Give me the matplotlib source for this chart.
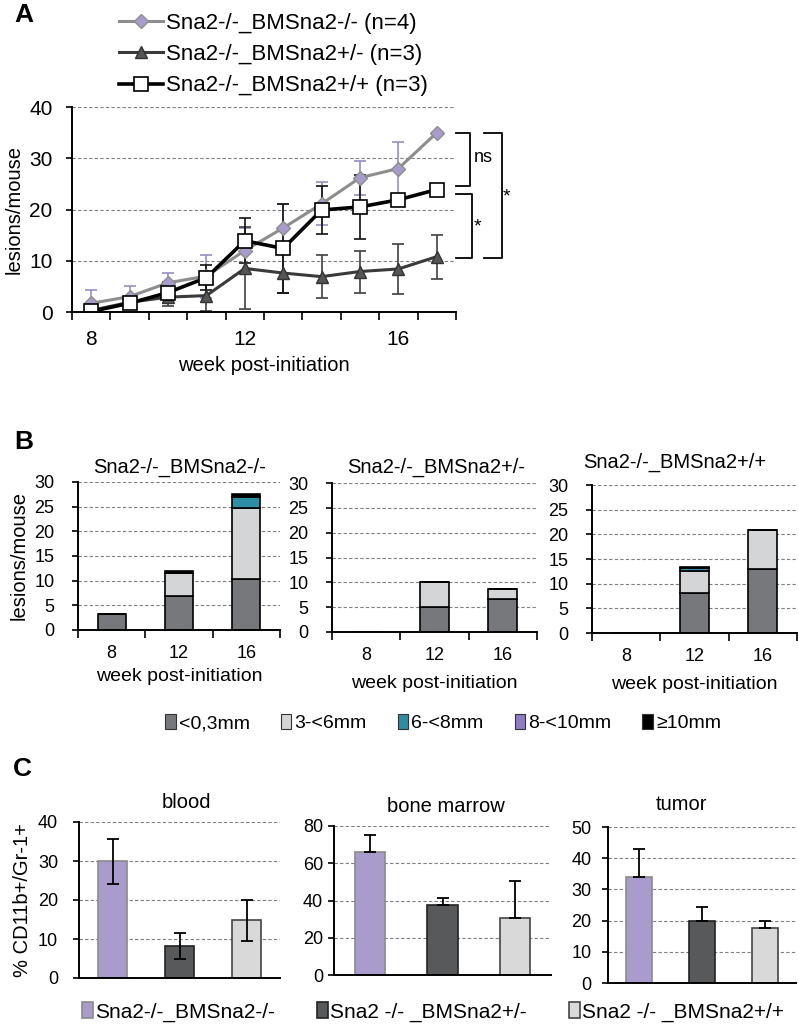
import numpy as np
import matplotlib
matplotlib.use('Agg')
import matplotlib.pyplot as plt
from matplotlib.patches import Patch

plt.rcParams['font.family'] = ['Liberation Sans', 'DejaVu Sans']

W, H = 799, 1025

# ---- panel A data (lesions/mouse per week) ----
weeks = [8, 9, 10, 11, 12, 13, 14, 15, 16, 17]
week_labels = ['8', '12', '16']
a_names = ['Sna2-/-_BMSna2-/- (n=4)', 'Sna2-/-_BMSna2+/- (n=3)', 'Sna2-/-_BMSna2+/+ (n=3)']
ko_mean = [1.7, 3.0, 5.7, 7.0, 12.0, 16.4, 21.1, 26.2, 28.0, 35.0]
ko_err = [2.5, 2.1, 1.9, 4.2, 4.4, 4.7, 4.2, 3.3, 5.2, 0.0]
het_mean = [0.3, 1.9, 2.9, 3.2, 8.5, 7.6, 6.9, 7.9, 8.4, 10.8]
het_err = [0.5, 1.0, 1.8, 3.0, 8.0, 3.8, 4.2, 4.1, 4.9, 4.3]
wt_mean = [0.1, 1.7, 3.8, 6.7, 13.9, 12.4, 19.9, 20.5, 21.9, 23.9]
wt_err = [0.3, 0.6, 2.0, 2.5, 4.4, 8.7, 4.6, 6.2, 0.0, 0.0]

# ---- panel B data (stacked lesion sizes) ----
b_titles = ['Sna2-/-_BMSna2-/-', 'Sna2-/-_BMSna2+/-', 'Sna2-/-_BMSna2+/+']
b_weeks = ['8', '12', '16']
size_classes = ['<0,3mm', '3-<6mm', '6-<8mm', '8-<10mm', '\u226510mm']
b_data = [
    # one row per size class, columns = weeks 8, 12, 16
    [[3.2, 6.9, 10.4], [0.0, 4.7, 14.4], [0.0, 0.0, 2.1], [0.0, 0.0, 0.0], [0.0, 0.4, 0.6]],
    [[0.0, 5.1, 6.6], [0.0, 5.0, 2.0], [0.0, 0.0, 0.0], [0.0, 0.0, 0.0], [0.0, 0.0, 0.0]],
    [[0.0, 8.2, 13.0], [0.0, 4.3, 7.9], [0.0, 0.6, 0.0], [0.0, 0.0, 0.0], [0.0, 0.3, 0.0]],
]

# ---- panel C data (% CD11b+/Gr-1+) ----
c_titles = ['blood', 'bone marrow', 'tumor']
c_groups = ['Sna2-/-_BMSna2-/-', 'Sna2 -/- _BMSna2+/-', 'Sna2 -/- _BMSna2+/+']
c_means = [[29.9, 8.2, 14.8], [66.0, 37.4, 30.8], [34.1, 20.0, 17.5]]
c_errs = [[5.8, 3.4, 5.3], [9.1, 3.8, 19.8], [8.8, 4.2, 2.4]]
c_ylims = [40, 80, 50]
c_steps = [10, 20, 10]

size_colors = ['#77787c', '#d4d5d7', '#2e8ea6', '#8e7cc3', '#000000']
group_colors = ['#a99ccd', '#58595b', '#d9d9d9']
group_edges = ['#8a8a8a', '#222222', '#444444']


def px_axes(fig, left, right, top, bottom):
    return fig.add_axes([left / W, 1 - bottom / H, (right - left) / W, (bottom - top) / H])


def style(ax, ypad):
    for s in ('top', 'right'):
        ax.spines[s].set_visible(False)
    for s in ('left', 'bottom'):
        ax.spines[s].set_linewidth(1.4)
        ax.spines[s].set_color('black')
    ax.yaxis.grid(True, color='#7f7f7f', linestyle=(0, (3, 2)), linewidth=0.8)
    ax.set_axisbelow(True)
    ax.tick_params(axis='y', direction='out', length=4, width=1.2, pad=ypad)


fig = plt.figure(figsize=(W / 100, H / 100), dpi=100)

# ================= A =================
ax = px_axes(fig, 72, 456, 107, 312)
style(ax, 10)
x = np.arange(len(weeks))
ax.errorbar(x, ko_mean, yerr=ko_err, fmt='none', ecolor='#9a8cc8', elinewidth=1.2, capsize=4, capthick=1.2)
ax.errorbar(x, het_mean, yerr=het_err, fmt='none', ecolor='#404040', elinewidth=1.2, capsize=4, capthick=1.2)
ax.errorbar(x, wt_mean, yerr=wt_err, fmt='none', ecolor='#111111', elinewidth=1.2, capsize=4, capthick=1.2)
l1, = ax.plot(x, ko_mean, color='#8d8d8d', lw=2.2, marker='D', ms=7, mfc='#a99ccd', mec='#8d8d8d', mew=1)
l2, = ax.plot(x, het_mean, color='#3a3a3a', lw=2.2, marker='^', ms=9, mfc='#555555', mec='#333333', mew=1)
l3, = ax.plot(x, wt_mean, color='black', lw=2.6, marker='s', ms=10, mfc='white', mec='black', mew=1.2)
ax.set_xlim(-0.5, len(weeks) - 0.5)
ax.set_ylim(0, 40)
ax.set_yticks([0, 10, 20, 30, 40])
ax.set_xticks(np.arange(-0.5, len(weeks)), labels=[])
ax.set_xticks([weeks.index(int(w)) for w in week_labels], labels=week_labels, minor=True)
ax.tick_params(axis='x', which='major', direction='out', length=6, width=1.2)
ax.tick_params(axis='x', which='minor', length=0, pad=13)
ax.tick_params(which='both', labelsize=15)
ax.set_ylabel('lesions/mouse', fontsize=14.5, labelpad=4)
ax.set_xlabel('week post-initiation', fontsize=14.5, labelpad=5)
ax.legend([l1, l2, l3], a_names, loc='upper left', bbox_to_anchor=(119 / W, 1 - 13 / H),
          bbox_transform=fig.transFigure, frameon=False, fontsize=16, handlelength=2.0,
          handletextpad=0.1, labelspacing=0.46, borderpad=0, borderaxespad=0)

# significance brackets
bk = dict(color='black', lw=1.3, clip_on=False)
ax.plot([9.5, 9.86, 9.86, 9.5], [35, 35, 24.5, 24.5], **bk)
ax.plot([9.5, 9.92, 9.92, 9.5], [23, 23, 10.5, 10.5], **bk)
ax.plot([10.23, 10.7, 10.7, 10.23], [35, 35, 10.5, 10.5], **bk)
ax.text(10.2, 30.2, 'ns', fontsize=13, va='center', ha='center')
ax.text(10.07, 16.5, '*', fontsize=14, va='center', ha='center')
ax.text(10.82, 22.5, '*', fontsize=14, va='center', ha='center')

fig.text(14 / W, 1 - 15 / H, 'A', fontsize=19, fontweight='bold', va='center')

# ================= B =================
b_boxes = [(78, 280, 482, 630), (332, 537, 483, 632), (592, 797, 485, 633)]
b_title_x = [180, 436, 675]
for i, (l, r, t, b) in enumerate(b_boxes):
    ax = px_axes(fig, l, r, t, b)
    style(ax, 13)
    xb = np.arange(len(b_weeks))
    bottom = np.zeros(len(b_weeks))
    for k, vals in enumerate(b_data[i]):
        vals = np.array(vals)
        ax.bar(xb, vals, 0.42, bottom=bottom, color=size_colors[k], edgecolor='black', linewidth=1.2)
        bottom = bottom + vals
    ax.set_xlim(-0.5, 2.5)
    ax.set_ylim(0, 30)
    ax.set_yticks(range(0, 31, 5))
    ax.set_xticks(np.arange(-0.5, 3), labels=[])
    ax.set_xticks(xb, labels=b_weeks, minor=True)
    ax.tick_params(axis='x', which='major', direction='out', length=6, width=1.2)
    ax.tick_params(axis='x', which='minor', length=0, pad=11)
    ax.tick_params(which='both', labelsize=13)
    ax.set_xlabel('week post-initiation', fontsize=14, labelpad=4 if i == 0 else 8)
    if i == 0:
        ax.set_ylabel('lesions/mouse', fontsize=14.5, labelpad=4)
    fig.text(b_title_x[i] / W, 1 - (467 - (5 if i == 2 else 0)) / H, b_titles[i],
             fontsize=14.5, ha='center', va='center')

fig.text(14 / W, 1 - 442 / H, 'B', fontsize=19, fontweight='bold', va='center')
size_handles = [Patch(facecolor=c, edgecolor='#333333', linewidth=0.8) for c in size_colors]
fig.legend(size_handles, size_classes, loc='center', bbox_to_anchor=(443 / W, 1 - 723 / H),
           ncol=5, frameon=False, fontsize=14, handlelength=0.55, handleheight=0.8,
           handletextpad=0.15, columnspacing=1.6)

# ================= C =================
c_boxes = [(79, 280, 822, 978), (334, 551, 826, 975), (608, 796, 827, 983)]
c_title_pos = [(186, 802), (446, 807), (681, 804)]
c_pads = [11, 4, 8]
group_handles = []
for i, (l, r, t, b) in enumerate(c_boxes):
    ax = px_axes(fig, l, r, t, b)
    style(ax, c_pads[i])
    xc = np.arange(len(c_groups))
    for j in range(len(c_groups)):
        bar = ax.bar(xc[j], c_means[i][j], 0.42, color=group_colors[j], edgecolor=group_edges[j],
                     linewidth=1.2, label=c_groups[j])
        if i == 0:
            group_handles.append(bar)
    if i == 0:
        ax.errorbar(xc, c_means[i], yerr=c_errs[i], fmt='none', ecolor='black',
                    elinewidth=1.3, capsize=4, capthick=1.3)
    else:
        ax.errorbar(xc, c_means[i], yerr=[np.zeros(3), c_errs[i]], fmt='none', ecolor='black',
                    elinewidth=1.3, capsize=4, capthick=1.3)
    ax.set_xlim(-0.5, 2.5)
    ax.set_ylim(0, c_ylims[i])
    ax.set_yticks(range(0, c_ylims[i] + 1, c_steps[i]))
    ax.set_xticks([])
    ax.tick_params(labelsize=13)
    if i == 0:
        ax.set_ylabel('% CD11b+/Gr-1+', fontsize=14.5, labelpad=4)
    fig.text(c_title_pos[i][0] / W, 1 - c_title_pos[i][1] / H, c_titles[i],
             fontsize=14.5, ha='center', va='center')

fig.text(13 / W, 1 - 769 / H, 'C', fontsize=19, fontweight='bold', va='center')
fig.legend(group_handles, c_groups, loc='center', bbox_to_anchor=(433 / W, 1 - 1012 / H),
           ncol=3, frameon=False, fontsize=15, handlelength=0.55, handleheight=0.8,
           handletextpad=0.1, columnspacing=2.0)

fig.savefig('out.png', dpi=100)
